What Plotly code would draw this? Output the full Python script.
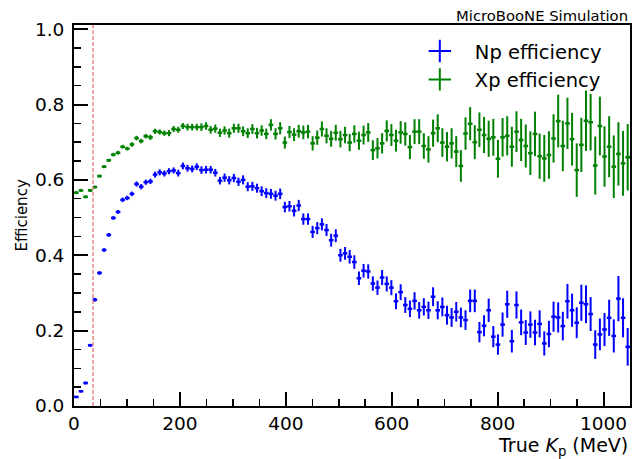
import numpy as np
import plotly.graph_objects as go

# ---- data ----
BIN_WIDTH = 8.75  # MeV, 120 bins over 0-1050 MeV
THRESHOLD = 36    # MeV, dashed red line

np_eff = [0.024, 0.039, 0.061, 0.161, 0.282, 0.353, 0.414, 0.454, 0.499, 0.515,
          0.547, 0.552, 0.563, 0.589, 0.582, 0.594, 0.596, 0.614, 0.620, 0.617,
          0.623, 0.625, 0.618, 0.637, 0.631, 0.629, 0.635, 0.626, 0.627, 0.627,
          0.619, 0.598, 0.606, 0.599, 0.605, 0.595, 0.600, 0.582, 0.583, 0.578,
          0.570, 0.565, 0.563, 0.558, 0.563, 0.528, 0.530, 0.518, 0.532, 0.496,
          0.496, 0.462, 0.472, 0.482, 0.467, 0.440, 0.452, 0.400, 0.405, 0.396,
          0.382, 0.339, 0.359, 0.357, 0.325, 0.314, 0.341, 0.324, 0.314, 0.278,
          0.302, 0.268, 0.258, 0.279, 0.254, 0.263, 0.254, 0.290, 0.254, 0.263,
          0.241, 0.235, 0.250, 0.235, 0.228, 0.279, 0.279, 0.196, 0.213, 0.254,
          0.184, 0.163, 0.216, 0.270, 0.172, 0.268, 0.222, 0.195, 0.216, 0.195,
          0.218, 0.166, 0.191, 0.237, 0.235, 0.212, 0.278, 0.254, 0.221, 0.274,
          0.270, 0.244, 0.163, 0.190, 0.203, 0.234, 0.186, 0.285, 0.234, 0.157]

np_err = [0.003, 0.003, 0.004, 0.004, 0.005, 0.005, 0.005, 0.005, 0.005, 0.005,
          0.006, 0.006, 0.006, 0.007, 0.007, 0.007, 0.007, 0.008, 0.008, 0.008,
          0.008, 0.008, 0.009, 0.009, 0.009, 0.009, 0.009, 0.010, 0.010, 0.010,
          0.010, 0.010, 0.011, 0.011, 0.011, 0.011, 0.012, 0.012, 0.012, 0.012,
          0.013, 0.013, 0.013, 0.013, 0.014, 0.014, 0.014, 0.015, 0.015, 0.015,
          0.015, 0.016, 0.016, 0.016, 0.016, 0.017, 0.017, 0.017, 0.017, 0.018,
          0.018, 0.018, 0.018, 0.019, 0.019, 0.019, 0.020, 0.020, 0.020, 0.021,
          0.021, 0.021, 0.022, 0.023, 0.022, 0.023, 0.023, 0.025, 0.024, 0.025,
          0.025, 0.025, 0.026, 0.026, 0.026, 0.030, 0.030, 0.027, 0.028, 0.031,
          0.028, 0.027, 0.032, 0.036, 0.030, 0.036, 0.034, 0.033, 0.035, 0.034,
          0.036, 0.032, 0.035, 0.040, 0.040, 0.038, 0.046, 0.044, 0.041, 0.048,
          0.050, 0.045, 0.038, 0.042, 0.044, 0.048, 0.044, 0.060, 0.052, 0.050]

xp_eff = [0.566, 0.572, 0.555, 0.572, 0.581, 0.610, 0.635, 0.652, 0.667, 0.672,
          0.688, 0.683, 0.694, 0.711, 0.703, 0.716, 0.713, 0.729, 0.727, 0.724,
          0.724, 0.735, 0.733, 0.743, 0.740, 0.740, 0.740, 0.740, 0.743, 0.733,
          0.736, 0.725, 0.731, 0.724, 0.737, 0.737, 0.729, 0.724, 0.735, 0.724,
          0.731, 0.722, 0.746, 0.722, 0.737, 0.699, 0.727, 0.720, 0.729, 0.726,
          0.728, 0.697, 0.712, 0.735, 0.717, 0.709, 0.725, 0.708, 0.719, 0.699,
          0.722, 0.704, 0.719, 0.726, 0.679, 0.684, 0.697, 0.730, 0.719, 0.704,
          0.726, 0.722, 0.687, 0.728, 0.728, 0.690, 0.681, 0.724, 0.737, 0.699,
          0.688, 0.697, 0.675, 0.637, 0.723, 0.749, 0.700, 0.733, 0.719, 0.709,
          0.713, 0.656, 0.713, 0.717, 0.688, 0.728, 0.706, 0.690, 0.671, 0.722,
          0.663, 0.657, 0.666, 0.710, 0.756, 0.690, 0.750, 0.708, 0.626, 0.693,
          0.757, 0.753, 0.638, 0.743, 0.662, 0.688, 0.635, 0.669, 0.644, 0.660]

xp_err = [0.004, 0.004, 0.004, 0.004, 0.004, 0.004, 0.004, 0.004, 0.005, 0.005,
          0.005, 0.005, 0.006, 0.006, 0.006, 0.006, 0.007, 0.007, 0.007, 0.007,
          0.008, 0.008, 0.008, 0.008, 0.009, 0.009, 0.009, 0.010, 0.010, 0.010,
          0.011, 0.011, 0.011, 0.012, 0.012, 0.012, 0.013, 0.013, 0.013, 0.014,
          0.014, 0.014, 0.015, 0.015, 0.016, 0.016, 0.016, 0.017, 0.017, 0.018,
          0.018, 0.019, 0.019, 0.020, 0.020, 0.021, 0.021, 0.022, 0.022, 0.023,
          0.023, 0.024, 0.025, 0.025, 0.026, 0.027, 0.027, 0.028, 0.029, 0.029,
          0.030, 0.031, 0.032, 0.033, 0.033, 0.034, 0.035, 0.036, 0.037, 0.038,
          0.039, 0.040, 0.041, 0.042, 0.043, 0.044, 0.045, 0.046, 0.048, 0.048,
          0.049, 0.050, 0.051, 0.052, 0.053, 0.054, 0.056, 0.057, 0.058, 0.059,
          0.060, 0.062, 0.063, 0.064, 0.070, 0.067, 0.068, 0.070, 0.071, 0.072,
          0.080, 0.075, 0.077, 0.078, 0.080, 0.081, 0.083, 0.084, 0.086, 0.088]

x_centers = (np.arange(len(np_eff)) + 0.5) * BIN_WIDTH

FONT = "DejaVu Sans"
BLUE = "#0000ff"
GREEN = "#008000"

fig = go.Figure()

for vals, errs, col in [(xp_eff, xp_err, GREEN), (np_eff, np_err, BLUE)]:
    fig.add_trace(go.Scatter(
        x=x_centers, y=vals, mode="markers",
        marker=dict(size=2, color=col),
        error_y=dict(type="data", array=errs, thickness=2, width=0, color=col),
        error_x=dict(type="constant", value=BIN_WIDTH / 2, thickness=2.5, width=0, color=col),
        showlegend=False, hoverinfo="skip",
    ))

# legend entries
for name, col, grp in [("Np efficiency", BLUE, "a"), ("Xp efficiency", GREEN, "b")]:
    fig.add_trace(go.Scatter(
        x=[None], y=[None], mode="markers", name=name, legendgroup=grp,
        marker=dict(symbol="cross-thin", size=20, color=col, line=dict(width=2, color=col)),
    ))

fig.add_shape(type="line", xref="x", yref="paper", x0=THRESHOLD, x1=THRESHOLD, y0=0, y1=1,
              line=dict(color="rgba(240,110,110,0.85)", width=1.5, dash="4px,2px"))

axis_common = dict(
    showline=True, linecolor="black", linewidth=2, mirror=True,
    ticks="inside", tickcolor="black", tickwidth=2, ticklen=14,
    showgrid=False, zeroline=False,
    tickfont=dict(family=FONT, size=18.5, color="black"),
)

fig.update_xaxes(range=[0, 1050], dtick=200, tick0=0,
                 minor=dict(dtick=50, ticks="inside", ticklen=7, tickwidth=1.5, tickcolor="black"),
                 **axis_common)
fig.update_yaxes(range=[0, 1.011], dtick=0.2, tick0=0, tickformat=".1f",
                 ticklabelstandoff=4,
                 minor=dict(dtick=0.05, ticks="inside", ticklen=7, tickwidth=1.5, tickcolor="black"),
                 **axis_common)

fig.add_annotation(text="True <i>K</i><sub>p</sub> (MeV)", xref="paper", yref="paper",
                   x=1, y=0, xanchor="right", yanchor="top", yshift=-26, showarrow=False,
                   font=dict(family=FONT, size=19, color="black"))
fig.add_annotation(text="Efficiency", xref="paper", yref="paper", textangle=-90,
                   x=0, y=0.5, xanchor="center", yanchor="middle", xshift=-53, showarrow=False,
                   font=dict(family=FONT, size=15, color="black"))
fig.add_annotation(text="MicroBooNE Simulation", xref="paper", yref="paper",
                   x=1, y=1, xanchor="right", yanchor="bottom", yshift=-1, showarrow=False,
                   font=dict(family=FONT, size=14.8, color="black"))

fig.update_layout(
    width=644, height=459,
    margin=dict(l=74, r=14, t=25, b=53),
    paper_bgcolor="white", plot_bgcolor="white",
    font=dict(family=FONT, color="black"),
    legend=dict(x=0.595, y=0.982, xanchor="left", yanchor="top",
                font=dict(family=FONT, size=19.5, color="black"),
                bgcolor="rgba(0,0,0,0)", traceorder="grouped", tracegroupgap=0,
                itemwidth=60),
)

fig.write_html("out.html",
               config={"displayModeBar": False, "staticPlot": True},
               post_script="document.body.style.margin='0';document.body.style.overflow='hidden';")
